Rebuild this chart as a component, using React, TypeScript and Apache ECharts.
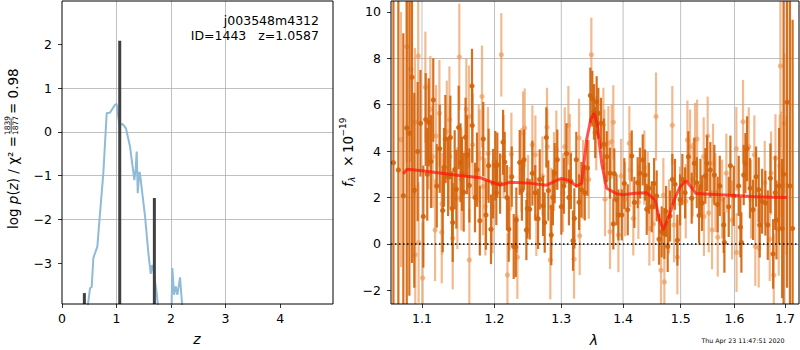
import React, { useEffect, useRef } from 'react';
import * as echarts from 'echarts';

// ---------- tick labels ----------
const zTicks = [0, 1, 2, 3, 4];
const logpTicks = [-3, -2, -1, 0, 1, 2];
const lamTicks = [1.1, 1.2, 1.3, 1.4, 1.5, 1.6, 1.7];
const fluxTicks = [-2, 0, 2, 4, 6, 8, 10];

// ---------- left panel: log p(z) ----------
const pzCurve: [number, number][] = [
  [0.44, -4.3], [0.514, -3.57], [0.545, -3.54], [0.575, -2.88], [0.648, -2.62], [0.697, -1.86],
  [0.758, -0.94], [0.82, 0.43], [0.88, 0.44], [0.972, 0.62], [1.003, 0.64], [1.052, 0.16],
  [1.113, 0.18], [1.174, 0.08], [1.248, -0.34], [1.327, -1.1], [1.352, -0.83], [1.37, -0.45],
  [1.389, -1.4], [1.419, -0.91], [1.43, -0.95], [1.48, -1.48], [1.523, -1.93], [1.584, -2.77],
  [1.627, -3.24], [1.651, -3.04], [1.67, -3.11], [1.737, -3.68], [1.8, -4.5], [1.95, -5.0],
  [2.005, -4.3], [2.024, -3.11], [2.055, -3.72], [2.086, -3.53], [2.116, -3.72], [2.165, -3.32],
  [2.23, -4.4], [2.3, -5.0],
];
const pzPeaks: [number, number][] = [[0.41, -3.68], [1.0587, 2.08], [1.694, -1.51]];

// ---------- right panel: spectrum [lambda, flux, err] ----------
const specDark: [number, number, number][] = [
  [1.063, 3.5, 9.0], [1.0693, 3.19, 8.5], [1.0757, 2.08, 7.0], [1.0801, 5.0, 8.0], [1.0835, 4.77, 7.0],
  [1.0869, 7.18, 8.0], [1.0899, 2.31, 4.2], [1.0943, 3.98, 3.0], [1.098, 5.2, 2.3], [1.1018, 1.18, 2.2],
  [1.1049, 5.36, 2.0], [1.107, 3.0, 2.0], [1.1089, 5.24, 1.9], [1.112, 3.55, 2.0], [1.115, 6.2, 1.8],
  [1.1197, 2.5, 1.8], [1.1237, 4.1, 1.9], [1.1277, 1.44, 1.8], [1.1295, 3.3, 1.7], [1.1313, 4.52, 1.9],
  [1.135, 2.9, 1.7], [1.1381, 4.59, 1.8], [1.1404, 1.53, 1.6], [1.1413, 0.92, 1.7], [1.144, 3.2, 1.7],
  [1.1463, 2.36, 1.7], [1.1495, 5.02, 1.8], [1.152, 3.5, 1.7], [1.1541, 3.02, 1.6], [1.1564, 2.23, 1.7],
  [1.159, 4.6, 1.7], [1.161, 3.84, 1.7], [1.1643, 2.52, 1.6], [1.168, 6.81, 1.6], [1.1683, 5.1, 1.6],
  [1.1722, 2.0, 1.5], [1.175, 3.2, 1.6], [1.179, 1.0, 1.5], [1.1839, 4.52, 1.6], [1.1877, 1.25, 1.5],
  [1.1915, 3.37, 1.6], [1.1949, 0.63, 1.5], [1.198, 2.6, 1.5], [1.2011, 3.37, 1.5],
  [1.2026, 2.21, 1.4], [1.204, 3.4, 1.4], [1.208, 2.6, 1.3], [1.2123, 4.38, 1.4], [1.2147, 3.53, 1.3],
  [1.218, 2.0, 1.4], [1.2206, 0.63, 1.4], [1.225, 2.9, 1.3], [1.2279, -0.11, 1.4], [1.2309, -0.13, 1.3],
  [1.2318, 1.03, 1.4], [1.2368, 3.51, 1.4], [1.24, 2.3, 1.3], [1.2432, 3.63, 1.3], [1.2467, 0.6, 1.3],
  [1.2482, 1.53, 1.3], [1.2517, 1.49, 1.3], [1.2557, 3.05, 1.4], [1.26, 2.2, 1.2], [1.2643, 1.08, 1.3],
  [1.2668, 2.78, 1.3], [1.2719, 1.64, 1.3], [1.2744, 0.92, 1.3], [1.2769, 4.59, 1.3], [1.28, 2.3, 1.3],
  [1.2845, 0.38, 1.3], [1.287, 2.0, 1.2], [1.2897, 3.05, 1.3], [1.2938, 3.63, 1.3], [1.3001, 1.6, 1.2],
  [1.304, 2.5, 1.2], [1.308, 3.9, 1.3], [1.312, 2.0, 1.2], [1.315, 2.7, 1.2], [1.3184, 0.14, 1.3],
  [1.3205, 1.1, 1.3], [1.3236, 3.63, 1.2], [1.328, 1.8, 1.2], [1.3317, 2.33, 1.2], [1.3371, 2.21, 1.2],
  [1.3414, 3.27, 1.2], [1.3461, 6.4, 1.2], [1.3493, 6.26, 1.2], [1.352, 5.69, 1.2],
  [1.354, 4.8, 1.1], [1.3563, 6.13, 1.1], [1.359, 5.63, 1.1], [1.3634, 5.2, 1.1], [1.368, 4.3, 1.1],
  [1.3728, 3.76, 1.1], [1.3782, 3.05, 1.1], [1.3837, 0.86, 1.1], [1.3853, 3.02, 1.1], [1.389, 1.9, 1.1],
  [1.3921, 1.25, 1.1], [1.3978, 1.25, 1.1], [1.402, 2.6, 1.1], [1.4078, 1.47, 1.1], [1.4146, 3.79, 1.1],
  [1.419, 1.79, 1.1], [1.4247, 2.64, 1.1], [1.4286, 3.05, 1.1], [1.4333, 3.62, 1.1], [1.4373, 2.97, 1.1],
  [1.4402, 1.49, 1.1], [1.444, 2.4, 1.1], [1.4489, 1.6, 1.1], [1.453, 2.6, 1.1], [1.4575, 2.07, 1.1],
  [1.4616, 0.2, 1.1], [1.4663, 0.52, 1.1], [1.471, 0.45, 1.1], [1.474, 1.4, 1.1], [1.4769, -0.11, 1.1],
  [1.481, 1.2, 1.1], [1.4851, 2.78, 1.1], [1.4898, 2.57, 1.1], [1.4941, 0.16, 1.1], [1.499, 1.9, 1.1],
  [1.5031, 2.78, 1.1], [1.508, 2.2, 1.1], [1.5139, 3.76, 1.1], [1.52, 1.97, 1.1], [1.5249, 3.48, 1.1],
  [1.5293, 2.64, 1.1], [1.5335, 1.22, 1.2],
  [1.536, 2.47, 1.2], [1.539, 1.76, 1.2], [1.5451, 2.93, 1.2], [1.5482, 3.48, 1.2], [1.5544, 3.19, 1.2],
  [1.5618, 2.97, 1.3], [1.568, 1.7, 1.2], [1.572, 2.5, 1.3], [1.5795, 0.81, 1.2], [1.5808, 0.06, 1.3],
  [1.589, 1.6, 1.3], [1.5922, 3.37, 1.3], [1.5986, 2.07, 1.3], [1.6081, 2.5, 1.3], [1.6114, 0.72, 1.3],
  [1.6133, 0.06, 1.3], [1.6178, 2.97, 1.3], [1.6211, 3.48, 1.3], [1.6243, 4.1, 1.4], [1.63, 2.4, 1.3],
  [1.636, 1.47, 1.3], [1.642, 2.9, 1.3], [1.6472, 2.33, 1.4], [1.6492, 0.81, 1.4], [1.6538, 1.84, 1.4],
  [1.6604, 1.76, 1.4], [1.6652, 0.81, 1.5], [1.6704, 2.83, 1.5], [1.6758, -0.43, 1.5], [1.68, 2.2, 1.6],
  [1.6826, 1.03, 1.7], [1.688, 2.5, 2.5], [1.6941, 0.66, 3.0], [1.697, 3.0, 9.0], [1.7042, 6.11, 8.0],
  [1.71, 2.5, 9.0], [1.7155, 0.66, 9.0],
];

const specLight: [number, number, number][] = [
  [1.0727, 4.5, 5.5], [1.0801, 8.5, 5.0], [1.0856, 7.53, 4.0], [1.0908, 5.24, 3.2], [1.0912, -0.47, 3.0],
  [1.0951, 8.1, 2.8], [1.0956, 0.06, 2.6], [1.1009, -1.47, 2.4], [1.1045, 6.75, 2.4], [1.1089, 4.65, 2.3],
  [1.1111, 5.8, 2.3], [1.1143, 3.76, 2.2], [1.1174, 0.6, 2.2], [1.1188, 4.65, 2.2], [1.1232, 5.63, 2.3],
  [1.1264, 0.5, 2.2], [1.1268, 1.73, 2.2], [1.1332, 4.84, 2.2], [1.1368, 5.35, 2.3], [1.1372, 3.76, 2.2],
  [1.1413, 0.24, 2.2], [1.1477, 1.97, 2.2], [1.1504, 8.06, 2.3], [1.1532, 2.78, 2.2], [1.1601, 5.8, 2.2],
  [1.1638, 5.49, 2.2], [1.1643, -0.69, 2.2], [1.1689, 4.27, 2.2], [1.1774, 3.9, 2.1], [1.1788, 3.69, 2.1],
  [1.1821, 6.35, 2.2], [1.1835, 2.47, 2.1], [1.1868, 1.6, 2.1], [1.1906, 3.9, 2.0], [1.1972, 1.6, 2.0],
  [1.2098, 8.15, 1.8], [1.2132, 3.76, 1.8], [1.2187, -1.34, 1.8], [1.2221, 1.53, 1.8], [1.2245, 3.86, 1.8],
  [1.2333, -0.57, 1.8], [1.2393, 3.19, 1.8], [1.2418, 4.77, 1.8], [1.2442, 5.0, 1.7], [1.2492, 2.13, 1.7],
  [1.2557, 4.27, 1.7], [1.2602, 3.84, 1.7], [1.2617, 1.18, 1.7], [1.2709, 2.93, 1.7], [1.2779, 5.03, 1.7],
  [1.2784, 4.19, 1.6], [1.283, -0.69, 1.7], [1.2845, 1.58, 1.7], [1.2887, 3.12, 1.7], [1.2923, 4.05, 1.7],
  [1.3027, 2.21, 1.7], [1.3054, 4.19, 1.7], [1.3111, 5.11, 1.7], [1.3132, 3.9, 1.7], [1.32, -0.66, 1.7],
  [1.3279, 4.56, 1.7], [1.329, 0.35, 1.7], [1.3344, 2.78, 1.7], [1.3435, 2.78, 1.7], [1.3477, 8.15, 1.6],
  [1.3557, 4.77, 1.6], [1.3673, 5.13, 1.6], [1.3689, 4.19, 1.6], [1.37, 1.93, 1.6], [1.3755, 4.34, 1.6],
  [1.3782, 0.52, 1.6], [1.381, 4.41, 1.6], [1.3837, 5.24, 1.6], [1.3921, 0.38, 1.6], [1.3967, 2.93, 1.6],
  [1.4032, 1.93, 1.6], [1.4105, 4.34, 1.6], [1.4117, 3.19, 1.6], [1.4172, 1.1, 1.6], [1.4259, 1.81, 1.6],
  [1.4362, 3.29, 1.6], [1.4419, 2.36, 1.6], [1.4448, 0.66, 1.6], [1.4518, 0.86, 1.6], [1.4564, 5.49, 1.9],
  [1.4651, -1.14, 1.7], [1.4692, 2.1, 1.6], [1.471, -1.64, 1.7], [1.4792, 1.18, 1.6], [1.4851, 5.11, 1.7],
  [1.4881, 0.81, 1.6], [1.4941, -0.57, 1.6], [1.4989, 1.73, 1.6], [1.5092, 1.84, 1.6], [1.5122, 4.48, 1.7],
  [1.517, 4.19, 1.6], [1.5219, 2.78, 1.6], [1.5262, 4.48, 1.6], [1.5299, 4.52, 1.7], [1.542, 3.76, 1.7],
  [1.5425, 1.18, 1.7], [1.5494, 4.65, 1.7], [1.5513, 1.33, 1.7], [1.5575, 0.6, 1.7], [1.5594, 3.48, 1.7],
  [1.5638, 2.21, 1.7], [1.5682, 0.29, 1.7], [1.5763, 1.93, 1.7], [1.5845, 3.05, 1.7], [1.5954, 1.03, 1.7],
  [1.6036, 4.1, 1.8], [1.604, -0.37, 1.7], [1.6165, 5.27, 1.8], [1.6276, 4.19, 1.7], [1.6321, 1.93, 1.7],
  [1.6386, 3.84, 1.7], [1.6405, -0.11, 1.7], [1.6472, -0.18, 1.7], [1.6591, 2.64, 1.8], [1.6691, 0.2, 1.8],
  [1.6718, 3.05, 1.8], [1.6772, -1.35, 1.8], [1.6806, 3.69, 1.9], [1.6872, 0.63, 2.0], [1.6892, 3.37, 2.2],
  [1.6906, 7.67, 3.5], [1.692, 3.2, 2.5], [1.6988, 5.2, 3.0], [1.7028, 2.53, 3.0],
];

const modelLine: [number, number][] = [
  [1.0756, 3.02], [1.0805, 3.22], [1.1, 3.15], [1.15, 2.95], [1.18, 2.85], [1.198, 2.64], [1.208, 2.53],
  [1.2224, 2.66], [1.25, 2.62], [1.2775, 2.53], [1.2995, 2.82], [1.31, 2.75], [1.324, 2.5], [1.332, 2.6],
  [1.34, 4.48], [1.347, 5.4], [1.352, 5.63], [1.357, 5.2], [1.3645, 3.48], [1.3727, 2.4], [1.389, 2.16],
  [1.4, 2.12], [1.42, 2.18], [1.44, 2.2], [1.4547, 1.9], [1.462, 1.1], [1.469, 0.6], [1.481, 1.32],
  [1.49, 2.0], [1.499, 2.47], [1.5097, 2.72], [1.523, 2.33], [1.528, 2.17], [1.5915, 2.1], [1.65, 2.02],
  [1.7035, 2.0],
];

// ---------- layout / style constants ----------
const FONT = 'DejaVu Sans';
const Z_MIN = 0, Z_MAX = 4.97, LP_MIN = -3.93, LP_MAX = 2.99;
const L_MIN = 1.0599, L_MAX = 1.7287, F_MIN = -2.59, F_MAX = 10.47;
const minusFmt = (v: number) => (v < 0 ? '\u2212' + Math.abs(v) : String(v));

const errorBarRender = (color: string, opacity: number) => (_p: any, api: any) => {
  const x = api.value(0), f = api.value(1), e = api.value(2);
  const lo = Math.max(f - e, F_MIN), hi = Math.min(f + e, F_MAX);
  const children: any[] = [];
  if (hi > lo) {
    const a = api.coord([x, lo]), b = api.coord([x, hi]);
    children.push({ type: 'line', shape: { x1: a[0], y1: a[1], x2: b[0], y2: b[1] }, style: { stroke: color, lineWidth: 2.2, opacity } });
  }
  if (f > F_MIN && f < F_MAX) {
    const c = api.coord([x, f]);
    children.push({ type: 'circle', shape: { cx: c[0], cy: c[1], r: 2.6 }, style: { fill: color, opacity } });
  }
  return { type: 'group', children };
};

const axisCommon = {
  axisLine: { show: false, onZero: false },
  axisTick: { show: true, length: 4, lineStyle: { color: '#000', width: 0.8 } },
};
const labelStyle = { color: '#000', fontSize: 12.5, fontFamily: FONT };
const splitStyle = { show: true, showMinLine: false, showMaxLine: false, lineStyle: { color: '#b0b0b0', width: 0.8 } };

export default function App() {
  const ref = useRef<HTMLDivElement>(null);
  useEffect(() => {
    const chart = echarts.init(ref.current!, null, { renderer: 'svg' });
    const option: any = {
      animation: false,
      backgroundColor: '#fff',
      grid: [
        { left: 62, top: 1, width: 271, height: 303, show: false },
        { left: 391, top: 1, width: 408, height: 303, show: false },
      ],
      xAxis: [
        {
          type: 'value', gridIndex: 0, min: Z_MIN, max: Z_MAX, ...axisCommon,
          axisTick: { ...axisCommon.axisTick, customValues: zTicks },
          axisLabel: { ...labelStyle, margin: 8, customValues: zTicks, formatter: minusFmt },
          splitLine: splitStyle,
        },
        {
          type: 'value', gridIndex: 1, min: Math.log(L_MIN), max: Math.log(L_MAX), ...axisCommon,
          axisTick: { ...axisCommon.axisTick, customValues: lamTicks.map((l) => Math.log(l)) },
          axisLabel: { ...labelStyle, margin: 8, customValues: lamTicks.map((l) => Math.log(l)), formatter: (v: number) => Math.exp(v).toFixed(1) },
          splitLine: { show: false },
        },
      ],
      yAxis: [
        {
          type: 'value', gridIndex: 0, min: LP_MIN, max: LP_MAX, ...axisCommon,
          axisTick: { ...axisCommon.axisTick, customValues: logpTicks },
          axisLabel: { ...labelStyle, margin: 10, customValues: logpTicks, formatter: minusFmt },
          splitLine: splitStyle,
        },
        {
          type: 'value', gridIndex: 1, min: F_MIN, max: F_MAX, ...axisCommon,
          axisTick: { ...axisCommon.axisTick, customValues: fluxTicks },
          axisLabel: { ...labelStyle, margin: 10, customValues: fluxTicks, formatter: minusFmt },
          splitLine: splitStyle,
        },
      ],
      series: [
        {
          type: 'line', xAxisIndex: 0, yAxisIndex: 0, data: pzCurve, showSymbol: false, clip: true,
          lineStyle: { color: '#8fbbd9', width: 2 }, z: 3, silent: true,
        },
        {
          type: 'custom', xAxisIndex: 0, yAxisIndex: 0, data: pzPeaks, z: 4, silent: true,
          renderItem: (_p: any, api: any) => {
            const zv = api.value(0), v = api.value(1);
            const a = api.coord([zv, LP_MIN]), b = api.coord([zv, v]);
            return { type: 'line', shape: { x1: a[0], y1: a[1], x2: b[0], y2: b[1] }, style: { stroke: '#404040', lineWidth: 3 } };
          },
        },
        {
          type: 'custom', xAxisIndex: 1, yAxisIndex: 1, data: lamTicks.map((l) => [Math.log(l), 0]), z: 1, silent: true,
          renderItem: (_p: any, api: any) => {
            const x = api.value(0);
            const a = api.coord([x, F_MIN]), b = api.coord([x, F_MAX]);
            return { type: 'line', shape: { x1: a[0], y1: a[1], x2: b[0], y2: b[1] }, style: { stroke: '#b0b0b0', lineWidth: 0.8 } };
          },
        },
        {
          type: 'custom', xAxisIndex: 1, yAxisIndex: 1, z: 2, silent: true,
          data: specLight.map(([l, f, e]) => [Math.log(l), f, e]),
          renderItem: errorBarRender('#ec9a5a', 0.68),
        },
        {
          type: 'custom', xAxisIndex: 1, yAxisIndex: 1, z: 3, silent: true,
          data: specDark.map(([l, f, e]) => [Math.log(l), f, e]),
          renderItem: errorBarRender('#d4640c', 0.92),
        },
        {
          type: 'line', xAxisIndex: 1, yAxisIndex: 1, z: 5, silent: true, showSymbol: false,
          data: modelLine.map(([l, f]) => [Math.log(l), f]),
          lineStyle: { color: 'rgba(255,20,10,0.72)', width: 3 },
          markLine: {
            silent: true, symbol: ['none', 'none'], label: { show: false },
            lineStyle: { color: '#000', type: [1.5, 2.5], width: 1.5 },
            data: [{ yAxis: 0 }],
          },
        },
      ],
      graphic: [
        { type: 'rect', z: 100, silent: true, shape: { x: 62, y: 1, width: 271, height: 303 }, style: { fill: 'none', stroke: '#000', lineWidth: 1 } },
        { type: 'rect', z: 100, silent: true, shape: { x: 391, y: 1, width: 408, height: 303 }, style: { fill: 'none', stroke: '#000', lineWidth: 1 } },
        { type: 'text', z: 100, x: 319, y: 20, style: { text: 'j003548m4312', fill: '#000', fontSize: 12.5, fontFamily: FONT, align: 'right', verticalAlign: 'middle' } },
        { type: 'text', z: 100, x: 319, y: 35, style: { text: 'ID=1443   z=1.0587', fill: '#000', fontSize: 12.5, fontFamily: FONT, align: 'right', verticalAlign: 'middle' } },
        { type: 'text', z: 100, x: 197, y: 339, style: { text: 'z', fill: '#000', fontSize: 14, fontStyle: 'italic', fontFamily: FONT, align: 'center', verticalAlign: 'middle' } },
        { type: 'text', z: 100, x: 594, y: 340, style: { text: 'λ', fill: '#000', fontSize: 14, fontStyle: 'italic', fontFamily: FONT, align: 'center', verticalAlign: 'middle' } },
        { type: 'text', z: 100, x: 743, y: 340, style: { text: 'Thu Apr 23 11:47:51 2020', fill: '#000', fontSize: 6.3, fontFamily: FONT, align: 'center', verticalAlign: 'middle' } },
        {
          type: 'group', x: 13, y: 153, rotation: Math.PI / 2, z: 100, silent: true,
          children: [
            {
              type: 'text', x: 17, y: 0,
              style: {
                text: '{n|log }{i|p}{n|(}{i|z}{n|) / χ² =}',
                rich: {
                  n: { fontSize: 13.5, fontFamily: FONT, fill: '#000' },
                  i: { fontSize: 13.5, fontFamily: FONT, fontStyle: 'italic', fill: '#000' },
                },
                align: 'right', verticalAlign: 'middle',
              },
            },
            { type: 'text', x: 27.5, y: -5.5, style: { text: '1839', fill: '#000', fontSize: 7.5, fontFamily: FONT, align: 'center', verticalAlign: 'middle' } },
            { type: 'line', shape: { x1: 20.5, y1: -1.8, x2: 34.5, y2: -1.8 }, style: { stroke: '#000', lineWidth: 0.7 } },
            { type: 'text', x: 27.5, y: 2.2, style: { text: '1877', fill: '#000', fontSize: 7.5, fontFamily: FONT, align: 'center', verticalAlign: 'middle' } },
            { type: 'text', x: 39, y: 0, style: { text: '= 0.98', fill: '#000', fontSize: 13.5, fontFamily: FONT, align: 'left', verticalAlign: 'middle' } },
          ],
        },
        {
          type: 'group', x: 348, y: 155, rotation: Math.PI / 2, z: 100, silent: true,
          children: [
            { type: 'text', x: -32, y: 0, style: { text: 'f', fill: '#000', fontSize: 13.5, fontStyle: 'italic', fontFamily: FONT, align: 'left', verticalAlign: 'middle' } },
            { type: 'text', x: -27, y: 3.5, style: { text: 'λ', fill: '#000', fontSize: 9, fontStyle: 'italic', fontFamily: FONT, align: 'left', verticalAlign: 'middle' } },
            { type: 'text', x: -6, y: 0, style: { text: '×', fill: '#000', fontSize: 13.5, fontFamily: FONT, align: 'center', verticalAlign: 'middle' } },
            { type: 'text', x: 2, y: 0, style: { text: '10', fill: '#000', fontSize: 13.5, fontFamily: FONT, align: 'left', verticalAlign: 'middle' } },
            { type: 'text', x: 18.5, y: -5, style: { text: '\u221219', fill: '#000', fontSize: 9, fontFamily: FONT, align: 'left', verticalAlign: 'middle' } },
          ],
        },
      ],
    };
    chart.setOption(option);
    return () => chart.dispose();
  }, []);
  return <div ref={ref} style={{ position: 'fixed', left: 0, top: 0, width: 800, height: 350, background: '#fff' }} />;
}
